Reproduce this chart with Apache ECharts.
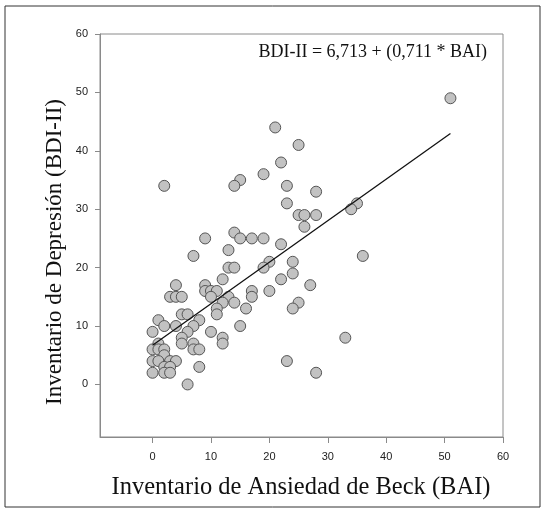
<!DOCTYPE html>
<html>
<head>
<meta charset="utf-8">
<script src="https://cdn.jsdelivr.net/npm/echarts@6/dist/echarts.min.js"></script>
<style>
html,body{margin:0;padding:0;background:#fff;}
#c{width:545px;height:512px;}
</style>
</head>
<body>
<div id="c"></div>
<script>
// BAI (x) and BDI-II (y) scores
var baiValues = [51,21,25,22,19,15,14,2,23,28,23,35,34,25,26,28,26,14,9,15,17,19,22,13,7,36,20,24,19,13,14,24,12,22,4,9,27,9,10,11,17,20,3,4,5,10,13,17,12,14,25,11,16,24,5,6,11,1,8,2,4,7,15,0,6,10,5,12,33,1,5,7,12,0,1,2,7,8,2,0,1,3,4,23,2,3,8,0,2,3,28,6];
var bdiValues = [49,44,41,38,36,35,34,34,34,33,31,31,30,29,29,29,27,26,25,25,25,25,24,23,22,22,21,21,20,20,20,19,18,18,17,17,17,16,16,16,16,16,15,15,15,15,15,15,14,14,14,13,13,13,12,12,12,11,11,10,10,10,10,9,9,9,8,8,8,7,7,7,7,6,6,6,6,6,5,4,4,4,4,4,3,3,3,2,2,2,2,0];
// regression line endpoints: BDI-II = 6,713 + 0,711 * BAI
var fitX = [0, 51];
var fitY = [6.713, 42.974];
var tickValues = [0, 10, 20, 30, 40, 50, 60];
var equationText = 'BDI-II = 6,713 + (0,711 * BAI)';
var xTitle = 'Inventario de Ansiedad de Beck (BAI)';
var yTitle = 'Inventario de Depresión (BDI-II)';

var points = baiValues.map(function (v, i) { return [v, bdiValues[i]]; });
var fitLine = fitX.map(function (v, i) { return [v, fitY[i]]; });

var chart = echarts.init(document.getElementById('c'));
var axisCommon = {
  type: 'value',
  min: -9,
  max: 60,
  axisLine: { show: true, onZero: false, lineStyle: { color: '#8a8a8a', width: 1 } },
  axisTick: { show: true, length: 6, customValues: tickValues, lineStyle: { color: '#8a8a8a' } },
  axisLabel: { customValues: tickValues, color: '#222', fontFamily: 'Liberation Sans', fontSize: 11 },
  splitLine: { show: false }
};
chart.setOption({
  animation: false,
  backgroundColor: '#fff',
  grid: { left: 100, right: 42, top: 34, bottom: 75, show: true, borderColor: '#8a8a8a', borderWidth: 1 },
  xAxis: Object.assign({}, axisCommon, { axisLabel: Object.assign({}, axisCommon.axisLabel, { margin: 14 }) }),
  yAxis: Object.assign({}, axisCommon, { axisTick: Object.assign({}, axisCommon.axisTick, { length: 5 }), axisLabel: Object.assign({}, axisCommon.axisLabel, { margin: 12 }) }),
  graphic: [
    { type: 'rect', shape: { x: 5, y: 6, width: 535, height: 501 }, style: { fill: 'none', stroke: '#333', lineWidth: 1 }, silent: true },
    { type: 'text', x: 487, y: 52, style: { text: equationText, font: '18px "Liberation Serif"', fill: '#111', textAlign: 'right', textVerticalAlign: 'middle' } },
    { type: 'text', x: 301, y: 488, style: { text: xTitle, font: '24.5px "Liberation Serif"', fill: '#111', textAlign: 'center', textVerticalAlign: 'middle' } },
    { type: 'text', x: 55, y: 252, rotation: Math.PI / 2, style: { text: yTitle, font: '23px "Liberation Serif"', fill: '#111', textAlign: 'center', textVerticalAlign: 'middle' } }
  ],
  series: [
    {
      type: 'scatter',
      data: points,
      symbol: 'circle',
      symbolSize: 11,
      itemStyle: { color: '#c2c2c2', borderColor: '#555', borderWidth: 1, opacity: 1 },
      z: 2
    },
    {
      type: 'line',
      data: fitLine,
      symbol: 'none',
      lineStyle: { color: '#111', width: 1.3 },
      z: 3
    }
  ]
});
</script>
</body>
</html>
